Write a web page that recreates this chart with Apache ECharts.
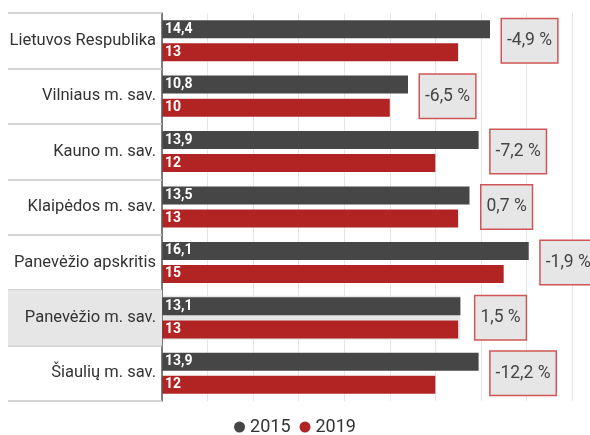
<!DOCTYPE html>
<html>
<head>
<meta charset="utf-8">
<script src="https://cdn.jsdelivr.net/npm/echarts@6/dist/echarts.min.js"></script>
<style>
  html, body { margin: 0; padding: 0; background: #fff; }
  #chart { width: 590px; height: 435px; }
</style>
</head>
<body>
<div id="chart"></div>
<script>
const categories = [
  "Lietuvos Respublika",
  "Vilniaus m. sav.",
  "Kauno m. sav.",
  "Klaipėdos m. sav.",
  "Panevėžio apskritis",
  "Panevėžio m. sav.",
  "Šiaulių m. sav.",
];
const values2015 = [14.4, 10.8, 13.9, 13.5, 16.1, 13.1, 13.9];
const values2019 = [13, 10, 12, 13, 15, 13, 12];
const changes = ["-4,9 %", "-6,5 %", "-7,2 %", "0,7 %", "-1,9 %", "1,5 %", "-12,2 %"];
const highlighted = "Panevėžio m. sav.";

const fmt = (v) => String(v).replace(".", ",");

const chart = echarts.init(document.getElementById("chart"));

// ghost series: carries the change labels and the highlight band
const ghostData = categories.map((name, i) => {
  const v = Math.max(values2015[i], values2019[i]);
  if (name === highlighted) {
    return {
      value: v,
      itemStyle: { color: "#e6e6e6", borderColor: "#e6e6e6", borderWidth: 10 },
      label: { distance: 15 },
    };
  }
  return { value: v, itemStyle: { color: "rgba(0,0,0,0)" } };
});

chart.setOption({
  animation: false,
  textStyle: { fontFamily: "Roboto" },
  grid: { left: 162, right: 18, top: 13, bottom: 34, outerBoundsMode: "none" },
  legend: {
    data: ["2015", "2019"],
    top: 413,
    icon: "circle",
    itemWidth: 11,
    itemHeight: 11,
    itemGap: 9,
    textStyle: { fontSize: 18, color: "#333", fontFamily: "Roboto" },
  },
  xAxis: {
    type: "value",
    min: 0,
    max: 18,
    interval: 2,
    axisLabel: { show: false },
    axisLine: { show: false },
    axisTick: { show: false },
    splitLine: { lineStyle: { color: "#e6e6e6" } },
  },
  yAxis: [
    {
      type: "category",
      data: categories,
      inverse: true,
      z: 3,
      axisLine: { show: true, lineStyle: { color: "#555", width: 1.5 } },
      axisTick: { show: true, inside: false, length: 154, lineStyle: { color: "#c8c8c8", width: 1.5 } },
      axisLabel: {
        margin: 0,
        formatter: (name) => (name === highlighted ? "{h|" + name + "}" : "{n|" + name + "}"),
        rich: {
          n: { fontSize: 16.5, color: "#333", fontFamily: "Roboto", padding: [0, 6, 0, 0] },
          h: {
            fontSize: 16.5,
            color: "#333",
            fontFamily: "Roboto",
            backgroundColor: "#e6e6e6",
            width: 148,
            height: 55,
            align: "right",
            padding: [0, 6, 0, 0],
          },
        },
      },
    },
    {
      type: "category",
      data: categories,
      inverse: true,
      show: false,
    },
  ],
  series: [
    {
      name: "change",
      type: "bar",
      yAxisIndex: 1,
      barWidth: 44,
      z: 1,
      silent: true,
      data: ghostData,
      label: {
        show: true,
        position: "right",
        distance: 12,
        formatter: (p) => changes[p.dataIndex],
        fontSize: 17.5,
        fontFamily: "Roboto",
        color: "#444",
        backgroundColor: "#e6e6e6",
        borderColor: "#d05555",
        borderWidth: 1.5,
        padding: [13, 5, 12, 5],
      },
    },
    {
      name: "2015",
      type: "bar",
      data: values2015,
      barWidth: 18,
      barGap: "28%",
      itemStyle: { color: "#464646" },
      label: {
        show: true,
        position: "insideLeft",
        distance: 3,
        formatter: (p) => fmt(p.value),
        color: "#fff",
        fontWeight: "bold",
        fontSize: 14,
      },
    },
    {
      name: "2019",
      type: "bar",
      data: values2019,
      barWidth: 18,
      itemStyle: { color: "#b22424" },
      label: {
        show: true,
        position: "insideLeft",
        distance: 3,
        formatter: (p) => fmt(p.value),
        color: "#fff",
        fontWeight: "bold",
        fontSize: 14,
      },
    },
  ],
});
</script>
</body>
</html>
